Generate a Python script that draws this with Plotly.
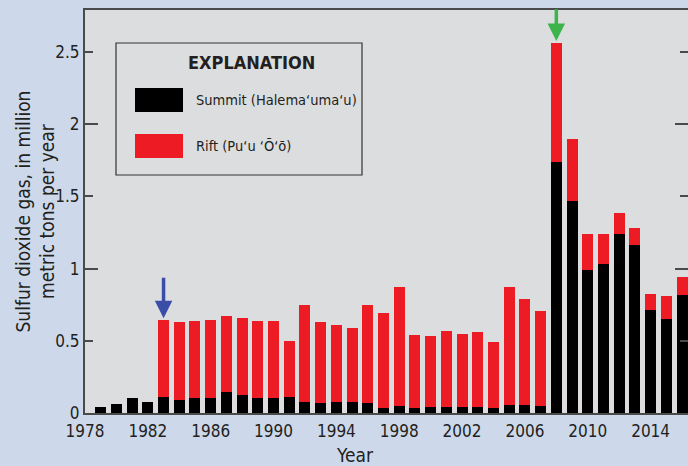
import plotly.graph_objects as go

years = list(range(1979, 2017))
summit = [0.045, 0.065, 0.106, 0.078, 0.113, 0.092, 0.106, 0.106, 0.148, 0.127,
          0.106, 0.106, 0.113, 0.078, 0.071, 0.078, 0.078, 0.071, 0.037, 0.051,
          0.037, 0.044, 0.044, 0.044, 0.044, 0.037, 0.058, 0.058, 0.051, 1.740,
          1.470, 0.992, 1.034, 1.242, 1.166, 0.715, 0.653, 0.819]
total = [0.045, 0.065, 0.106, 0.078, 0.646, 0.632, 0.639, 0.646, 0.674, 0.660,
         0.639, 0.639, 0.500, 0.750, 0.632, 0.611, 0.590, 0.750, 0.695, 0.875,
         0.542, 0.535, 0.570, 0.549, 0.563, 0.493, 0.875, 0.790, 0.708, 2.565,
         1.900, 1.242, 1.242, 1.387, 1.283, 0.826, 0.812, 0.945]
rift = [round(t - s, 3) for t, s in zip(total, summit)]
xticks = list(range(1978, 2015, 4))
yticks = [0, 0.5, 1, 1.5, 2, 2.5]
legend_labels = ["Summit (Halema‘uma‘u)", "Rift (Pu‘u ‘Ō‘ō)"]
arrow_years = [1983, 2008]

FONT = "DejaVu Sans Condensed, Liberation Sans Narrow, Arial Narrow, sans-serif"
TXT = "#231f20"
AX = "#4a4a4a"

fig = go.Figure()
fig.add_trace(go.Bar(x=years, y=summit, marker=dict(color="#000000", line_width=0),
                     width=0.7, showlegend=False, name=legend_labels[0]))
fig.add_trace(go.Bar(x=years, y=rift, marker=dict(color="#ed1c24", line_width=0),
                     width=0.7, showlegend=False, name=legend_labels[1]))

# extra axis for longer integer ticks
fig.add_trace(go.Scatter(x=[1978], y=[0], yaxis="y2", mode="markers",
                         marker=dict(opacity=0), showlegend=False, hoverinfo="skip"))

YMAX = 2.79
fig.update_layout(
    width=688, height=466,
    margin=dict(l=85, r=0, t=10, b=53),
    paper_bgcolor="#cdd9eb",
    plot_bgcolor="#dcdddf",
    barmode="stack",
    bargap=0,
    font=dict(family=FONT, color=TXT, size=17),
    xaxis=dict(range=[1978, 2016.38], tickvals=xticks, ticks="", showgrid=False,
               zeroline=False, showline=True, linecolor=AX, linewidth=2, mirror=True,
               tickfont=dict(size=17, color=TXT), ticklabelstandoff=2,
               automargin=False),
    yaxis=dict(range=[0, YMAX], tickvals=yticks, ticks="inside", ticklen=8,
               tickwidth=2, tickcolor=AX, showgrid=False, zeroline=False,
               showline=True, linecolor=AX, linewidth=2, mirror="ticks",
               tickfont=dict(size=17, color=TXT), automargin=False),
    yaxis2=dict(range=[0, YMAX], overlaying="y", side="left", anchor="x",
                tickvals=[0, 1, 2], ticks="inside", ticklen=13, tickwidth=2,
                tickcolor=AX, showticklabels=False, showgrid=False, zeroline=False,
                showline=False, mirror="ticks", automargin=False),
)

# axis titles
fig.add_annotation(xref="paper", yref="paper", x=-50 / 603, y=0.5,
                   text="Sulfur dioxide gas, in million<br>metric tons per year",
                   textangle=-90, showarrow=False, xanchor="center", yanchor="middle",
                   font=dict(size=19, color=TXT))
fig.add_annotation(xref="paper", yref="paper", x=(355 - 85) / 603, y=(413 - 455) / 403,
                   text="Year", showarrow=False, xanchor="center", yanchor="middle",
                   font=dict(size=19, color=TXT))

# legend box
def px2x(px):
    return (px - 85) / 603

def py2y(py):
    return (413 - py) / 403

fig.add_shape(type="rect", xref="paper", yref="paper",
              x0=px2x(116), x1=px2x(362), y0=py2y(175), y1=py2y(43),
              line=dict(color="#333333", width=1.2), fillcolor="#dcdddf", layer="above")
fig.add_shape(type="rect", xref="paper", yref="paper",
              x0=px2x(135), x1=px2x(183), y0=py2y(112), y1=py2y(88),
              line_width=0, fillcolor="#000000", layer="above")
fig.add_shape(type="rect", xref="paper", yref="paper",
              x0=px2x(135), x1=px2x(183), y0=py2y(158), y1=py2y(134),
              line_width=0, fillcolor="#ed1c24", layer="above")
fig.add_annotation(xref="paper", yref="paper", x=px2x(251), y=py2y(62),
                   text="<b>EXPLANATION</b>", showarrow=False,
                   font=dict(size=18, color=TXT), xanchor="center", yanchor="middle")
fig.add_annotation(xref="paper", yref="paper", x=px2x(194), y=py2y(100),
                   text=legend_labels[0], showarrow=False,
                   font=dict(size=14.5, color=TXT), xanchor="left", yanchor="middle")
fig.add_annotation(xref="paper", yref="paper", x=px2x(194), y=py2y(146),
                   text=legend_labels[1], showarrow=False,
                   font=dict(size=14.5, color=TXT), xanchor="left", yanchor="middle")

# arrows
arrow_cols = ["#3a4ea8", "#3cb44b"]
arrow_len = [0.29, 0.23]
for yr, col, ln in zip(arrow_years, arrow_cols, arrow_len):
    top = total[years.index(yr)]
    fig.add_annotation(x=yr, y=top + 0.01, ax=yr, ay=top + 0.01 + ln,
                       xref="x", yref="y", axref="x", ayref="y",
                       showarrow=True, arrowhead=2, arrowsize=1, arrowwidth=3.5,
                       arrowcolor=col, standoff=0, text="")

fig.write_html("out.html", config={"displayModeBar": False},
               post_script="document.body.style.margin='0';")
